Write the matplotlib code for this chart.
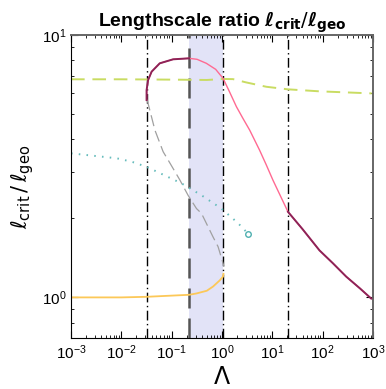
import matplotlib.pyplot as plt
import numpy as np

plt.rcParams['font.family'] = ['Liberation Sans', 'DejaVu Sans']
plt.rcParams['mathtext.fontset'] = 'dejavusans'

# upper branch (pink, dark where overlapping)
upper_lam = [0.0318, 0.0318, 0.034, 0.040, 0.058, 0.107, 0.222,
             0.32, 0.49, 0.75, 1.05, 1.4, 1.94, 2.63, 3.56, 5.6, 7.6, 10.3, 20.5,
             40, 87, 160, 295, 560, 925]
upper_ratio = [5.65, 6.17, 6.73, 7.25, 7.80, 8.08, 8.15,
               8.08, 7.80, 7.4, 6.84, 6.1, 5.33, 4.8, 4.34, 3.64, 3.2, 2.80, 2.12,
               1.82, 1.51, 1.35, 1.20, 1.08, 0.99]
dark_ranges = [(0.0, 0.23), (20.0, 2000.0)]

# lower branch (grey dashed)
lower_lam = [0.0318, 0.0327, 0.0465, 0.0678, 0.085, 0.146, 0.212, 0.312, 0.392, 0.665, 0.838, 1.1]
lower_ratio = [5.65, 5.65, 4.34, 3.59, 3.34, 2.80, 2.45, 2.18, 2.09, 1.70, 1.56, 1.31]

# dotted teal branch
dot_lam = [0.001, 0.0081, 0.016, 0.031, 0.043, 0.157, 0.392, 0.977, 2.08, 3.3]
dot_ratio = [3.54, 3.39, 3.29, 3.15, 3.06, 2.72, 2.45, 2.18, 1.92, 1.75]

# orange branch
orange_lam = [0.001, 0.01, 0.031, 0.222, 0.31, 0.5, 0.665, 0.9, 1.05, 1.07]
orange_ratio = [1.0, 1.0, 1.005, 1.023, 1.035, 1.06, 1.10, 1.16, 1.2, 1.23]

# green dashed
green_lam = [0.001, 0.01, 0.1, 0.5, 1.05, 1.66, 3.0, 7.6, 20.2, 87, 950]
green_ratio = [6.78, 6.78, 6.76, 6.74, 6.8, 6.79, 6.6, 6.35, 6.21, 6.10, 5.99]

# markers
crit_lines = [0.0325, 1.05, 20.5]
band = (0.222, 1.05)
end_lam = [3.3]
end_ratio = [1.75]

fig = plt.figure(figsize=(3.86, 3.89), dpi=100)
ax = fig.add_axes([0.184, 0.131, 0.782, 0.779])

ax.axvspan(band[0], band[1], color='#e2e3f7', zorder=0, lw=0)
ax.axvline(band[0], color='#555555', lw=1.8, ls=(0, (8, 4)), zorder=1)
for xv in crit_lines:
    ax.axvline(xv, color='black', lw=1.0, ls=(0, (7, 2.5, 1, 2.5)), zorder=1)

ax.plot(green_lam, green_ratio, color='#c9dc62', lw=1.4, ls=(0, (7, 4)), zorder=2)
ax.plot(lower_lam, lower_ratio, color='#a0a0a0', lw=0.9, ls=(0, (9, 4)), zorder=2)
ax.plot(dot_lam, dot_ratio, color='#66bcbc', lw=1.4, ls=(0, (0.8, 3.2)), zorder=2)
ax.plot(end_lam, end_ratio, 'o', mfc='white', mec='#4fb0b0', ms=4, mew=1.0, zorder=3)
ax.plot(orange_lam, orange_ratio, color='#fcc858', lw=1.3, zorder=2)

ul = np.array(upper_lam)
ur = np.array(upper_ratio)
ax.plot(ul, ur, color='#ff6a92', lw=1.0, zorder=3)
for lo, hi in dark_ranges:
    m = (ul >= lo) & (ul <= hi)
    ax.plot(ul[m], ur[m], color='#8e2357', lw=1.4, zorder=4)

ax.set_xscale('log')
ax.set_yscale('log')
ax.set_xlim(1e-3, 1e3)
ax.set_ylim(0.7, 10)
ax.set_xticks([1e-3, 1e-2, 1e-1, 1e0, 1e1, 1e2, 1e3])
ax.set_yticks([1, 10])
ax.yaxis.set_minor_formatter(plt.NullFormatter())
ax.tick_params(which='both', direction='in', top=True, right=True, labelsize=11)
ax.tick_params(which='major', length=5)
ax.tick_params(which='minor', length=2.5)
for side in ['top', 'right']:
    ax.spines[side].set_color('#666666')
    ax.spines[side].set_linewidth(1.4)

ax.set_xlabel(r'$\Lambda$', fontsize=17)
ax.set_ylabel(r'$\ell_{\rm crit}\,/\,\ell_{\rm geo}$', fontsize=15)
ax.set_title(r'Lengthscale ratio $\boldsymbol{\ell}_{\mathbf{crit}}/\boldsymbol{\ell}_{\mathbf{geo}}$',
             fontsize=14, fontweight='bold', pad=6)

fig.savefig('out.png', dpi=100)
